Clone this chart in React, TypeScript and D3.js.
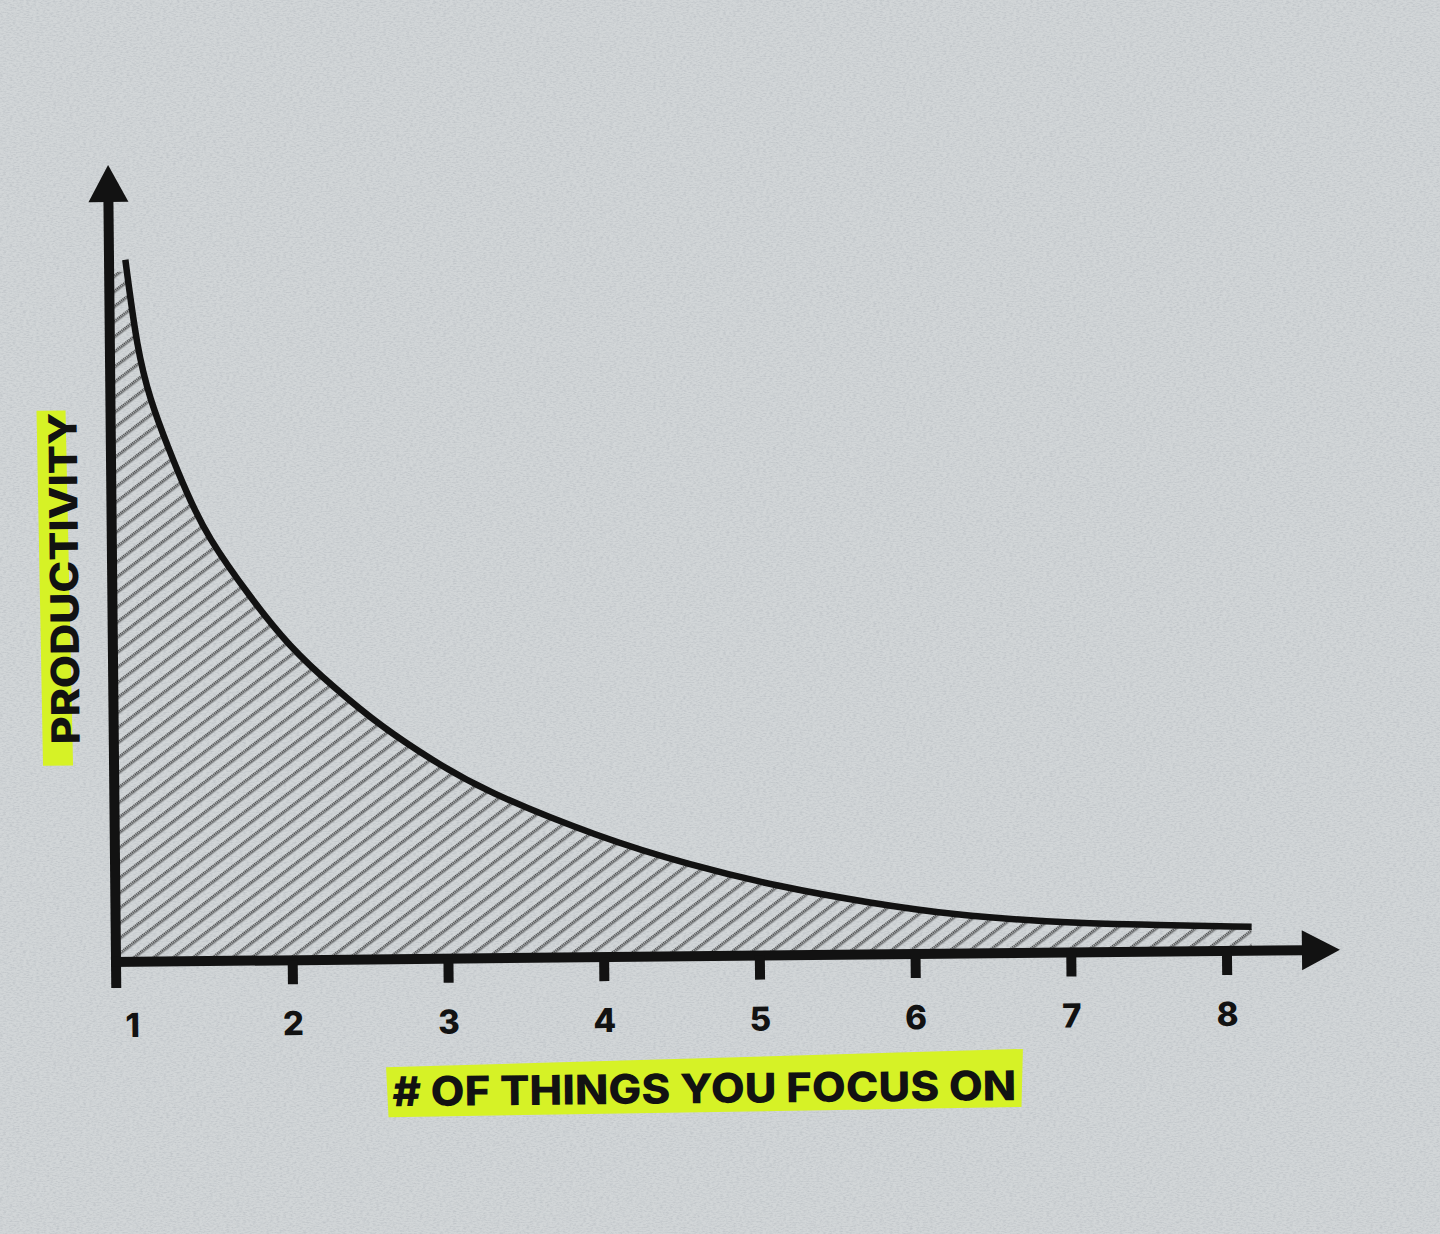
import React from 'react';
import * as d3 from 'd3';

// values (x = number of things, y = productivity, 0..10)
const xTicks = [1, 2, 3, 4, 5, 6, 7, 8];
const curveX = [0.97, 1.04, 1.12, 1.23, 1.35, 1.48, 1.75, 2.0, 2.28, 2.59, 2.91, 3.23, 3.98, 4.55, 5.13, 5.7, 6.27, 6.84, 7.42, 8.16];
const curveY = [8.81, 7.68, 7.05, 6.46, 5.87, 5.32, 4.56, 3.93, 3.42, 2.91, 2.49, 2.11, 1.5, 1.15, 0.86, 0.65, 0.48, 0.39, 0.34, 0.3];
const xLabel = '# OF THINGS YOU FOCUS ON';
const yLabel = 'PRODUCTIVITY';

const W = 1440;
const H = 1234;
const ink = '#121212';
const paper = '#d2d6d8';
const marker = '#d6f226';
const font = 'Inter, "Open Sans", sans-serif';

const App = () => {
  const axisX = 116;
  const xScale = d3.scaleLinear().domain([1, 8]).range([137, 1227]);
  const yScale = d3.scaleLinear().domain([0, 10]).range([962, 165]);
  const axisY = yScale(0);

  const points = curveX.map((x, i) => ({ x, y: curveY[i] }));

  const line = d3.line<{ x: number; y: number }>()
    .x(d => xScale(d.x))
    .y(d => yScale(d.y))
    .curve(d3.curveBasis);

  const area = d3.area<{ x: number; y: number }>()
    .x(d => xScale(d.x))
    .y0(axisY)
    .y1(d => yScale(d.y))
    .curve(d3.curveBasis);

  const first = points[0];
  const xEnd = 1305;

  return (
    <svg width={W} height={H} style={{ position: 'absolute', left: 0, top: 0, display: 'block' }}>
      <defs>
        <pattern id="hatch" patternUnits="userSpaceOnUse" width={12} height={12} patternTransform="rotate(53)">
          <line x1={5} y1={0} x2={5} y2={12} stroke="#141414" strokeWidth={1.4} strokeDasharray="1.2 0.8" />
          <line x1={6.7} y1={0} x2={6.7} y2={12} stroke="#141414" strokeWidth={1.2} strokeDasharray="1 1" strokeDashoffset={0.6} />
        </pattern>
        <filter id="grain" x="0" y="0" width="100%" height="100%">
          <feTurbulence type="fractalNoise" baseFrequency="0.3 0.8" numOctaves={3} seed={4} result="n" />
          <feColorMatrix in="n" type="matrix"
            values="0 0 0 0 0.35  0 0 0 0 0.38  0 0 0 0 0.42  0 0 0 -1.8 1.1" />
        </filter>
      </defs>

      <rect width={W} height={H} fill={paper} />
      <rect width={W} height={H} filter="url(#grain)" opacity={0.4} />

      <g transform={`rotate(-0.57 ${axisX} ${axisY})`}>
        {/* hatched area under the curve */}
        <rect
          x={axisX + 4}
          y={yScale(first.y) + 12}
          width={xScale(first.x) - axisX - 4}
          height={axisY - yScale(first.y) - 12}
          fill="url(#hatch)"
        />
        <path d={area(points) ?? ''} fill="url(#hatch)" />

        {/* curve */}
        <path d={line(points) ?? ''} fill="none" stroke={ink} strokeWidth={6.5} />

        {/* y axis */}
        <rect x={axisX - 5} y={195} width={10} height={988 - 195} fill={ink} />
        <polygon points={`${axisX},${yScale(10)} ${axisX - 20},202 ${axisX + 20},202`} fill={ink} />

        {/* x axis */}
        <rect x={axisX - 5} y={axisY - 5} width={xEnd - axisX + 5} height={10} fill={ink} />
        <polygon points={`1340,${axisY} 1302,${axisY - 20} 1302,${axisY + 20}`} fill={ink} />

        {xTicks.slice(1).map(t => (
          <rect key={t} x={xScale(t) - 5} y={axisY} width={10} height={24} fill={ink} />
        ))}
        {xTicks.map(t => (
          <text
            key={t}
            x={t === 1 ? 132 : xScale(t)}
            y={1037}
            textAnchor="middle"
            fontFamily={font}
            fontWeight={800}
            fontSize={33}
            fill={ink}
          >
            {t}
          </text>
        ))}

        {/* x label with highlighter */}
        <polygon points="385,1070 1022,1058 1020,1116 387,1120" fill={marker} />
        <text
          x={391}
          y={1109}
          fontFamily={font}
          fontWeight={800}
          fontSize={41}
          fill={ink}
          textLength={624}
          lengthAdjust="spacingAndGlyphs"
        >
          {xLabel}
        </text>

        {/* y label with highlighter */}
        <polygon points="42,410 71,410 75,765 45,765" fill={marker} />
        <text
          transform={`translate(82, 578) rotate(-90)`}
          textAnchor="middle"
          fontFamily={font}
          fontWeight={800}
          fontSize={39}
          fill={ink}
          textLength={332}
          lengthAdjust="spacingAndGlyphs"
        >
          {yLabel}
        </text>
      </g>
    </svg>
  );
};

export default App;
